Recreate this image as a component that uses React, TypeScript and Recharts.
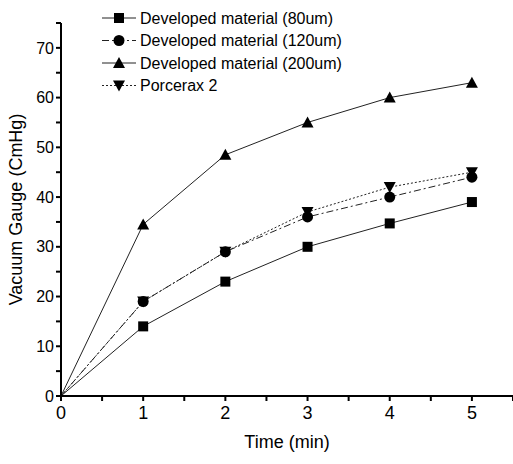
import { LineChart, Line, XAxis, YAxis, Label } from 'recharts';

const times = [0, 1, 2, 3, 4, 5];
const mat80 = [0, 14, 23, 30, 34.7, 39];
const mat120 = [0, 19, 29, 36, 40, 44];
const mat200 = [0, 34.5, 48.5, 55, 60, 63];
const porcerax = [0, 19, 29, 37, 42, 45];

const xTicks = [0, 0.5, 1, 1.5, 2, 2.5, 3, 3.5, 4, 4.5, 5, 5.5];
const yTicks = [0, 5, 10, 15, 20, 25, 30, 35, 40, 45, 50, 55, 60, 65, 70, 75];

const data = times.map((t, i) => ({
  t,
  m80: mat80[i],
  m120: mat120[i],
  m200: mat200[i],
  porc: porcerax[i],
}));

const font = '"Liberation Sans", Arial, sans-serif';

type Shape = 'square' | 'circle' | 'up' | 'down';

function Marker({ cx, cy, shape }: { cx: number; cy: number; shape: Shape }) {
  if (cx == null || cy == null) return null;
  if (shape === 'square') return <rect x={cx - 5} y={cy - 5} width={10} height={10} fill="#000" />;
  if (shape === 'circle') return <circle cx={cx} cy={cy} r={5.5} fill="#000" />;
  if (shape === 'up') return <polygon points={`${cx},${cy - 6} ${cx - 6},${cy + 5} ${cx + 6},${cy + 5}`} fill="#000" />;
  return <polygon points={`${cx},${cy + 6} ${cx - 6},${cy - 5} ${cx + 6},${cy - 5}`} fill="#000" />;
}

const series: { key: string; name: string; shape: Shape; dash?: string }[] = [
  { key: 'm80', name: 'Developed material (80um)', shape: 'square' },
  { key: 'm120', name: 'Developed material (120um)', shape: 'circle', dash: '7 3 2 3' },
  { key: 'm200', name: 'Developed material (200um)', shape: 'up' },
  { key: 'porc', name: 'Porcerax 2', shape: 'down', dash: '2 2' },
];

function LegendBox() {
  return (
    <svg width={270} height={92} style={{ fontFamily: font, display: 'block' }}>
      {series.map((s, i) => {
        const y = 11 + i * 22.5;
        return (
          <g key={s.key}>
            <line x1={2} x2={36} y1={y} y2={y} stroke="#222" strokeWidth={1} strokeDasharray={s.dash} />
            <Marker cx={19} cy={y} shape={s.shape} />
            <text x={40} y={y + 5.5} fontSize={16} fill="#000">{s.name}</text>
          </g>
        );
      })}
    </svg>
  );
}

const tickFmt = (v: number) => (Number.isInteger(v) ? String(v) : '');
const yFmt = (v: number) => (v % 10 === 0 && v <= 70 ? String(v) : '');

export default function App() {
  return (
    <div style={{ position: 'absolute', left: 0, top: 0, width: 513, height: 464, background: '#fff' }}>
      <LineChart width={513} height={464} data={data} margin={{ top: 23, right: 0, bottom: 0, left: 0 }}>
        <XAxis
          dataKey="t"
          type="number"
          domain={[0, 5.5]}
          ticks={xTicks}
          tickFormatter={tickFmt}
          stroke="#000"
          strokeWidth={2}
          tickSize={5}
          height={68}
          tick={{ fill: '#000', fontSize: 18, fontFamily: font, dy: 3 }}
        >
          <Label value="Time (min)" position="insideBottom" offset={16} style={{ fill: '#000', fontSize: 18, fontFamily: font }} />
        </XAxis>
        <YAxis
          type="number"
          domain={[0, 75]}
          ticks={yTicks}
          tickFormatter={yFmt}
          stroke="#000"
          strokeWidth={2}
          tickSize={5}
          width={61}
          interval={0}
          tick={{ fill: '#000', fontSize: 16, fontFamily: font }}
        >
          <Label value="Vacuum Gauge (CmHg)" angle={-90} position="insideLeft" offset={16} style={{ fill: '#000', fontSize: 18, fontFamily: font, textAnchor: 'middle' }} />
        </YAxis>
        {series.map((s) => (
          <Line
            key={s.key}
            dataKey={s.key}
            name={s.name}
            stroke="#222"
            strokeWidth={1}
            strokeDasharray={s.dash}
            isAnimationActive={false}
            dot={(p: any) =>
              p.index === 0 ? <g key={`${s.key}-${p.index}`} /> : <Marker key={`${s.key}-${p.index}`} cx={p.cx} cy={p.cy} shape={s.shape} />
            }
            activeDot={false}
          />
        ))}
      </LineChart>
      <div style={{ position: 'absolute', left: 100, top: 7 }}>
        <LegendBox />
      </div>
    </div>
  );
}
